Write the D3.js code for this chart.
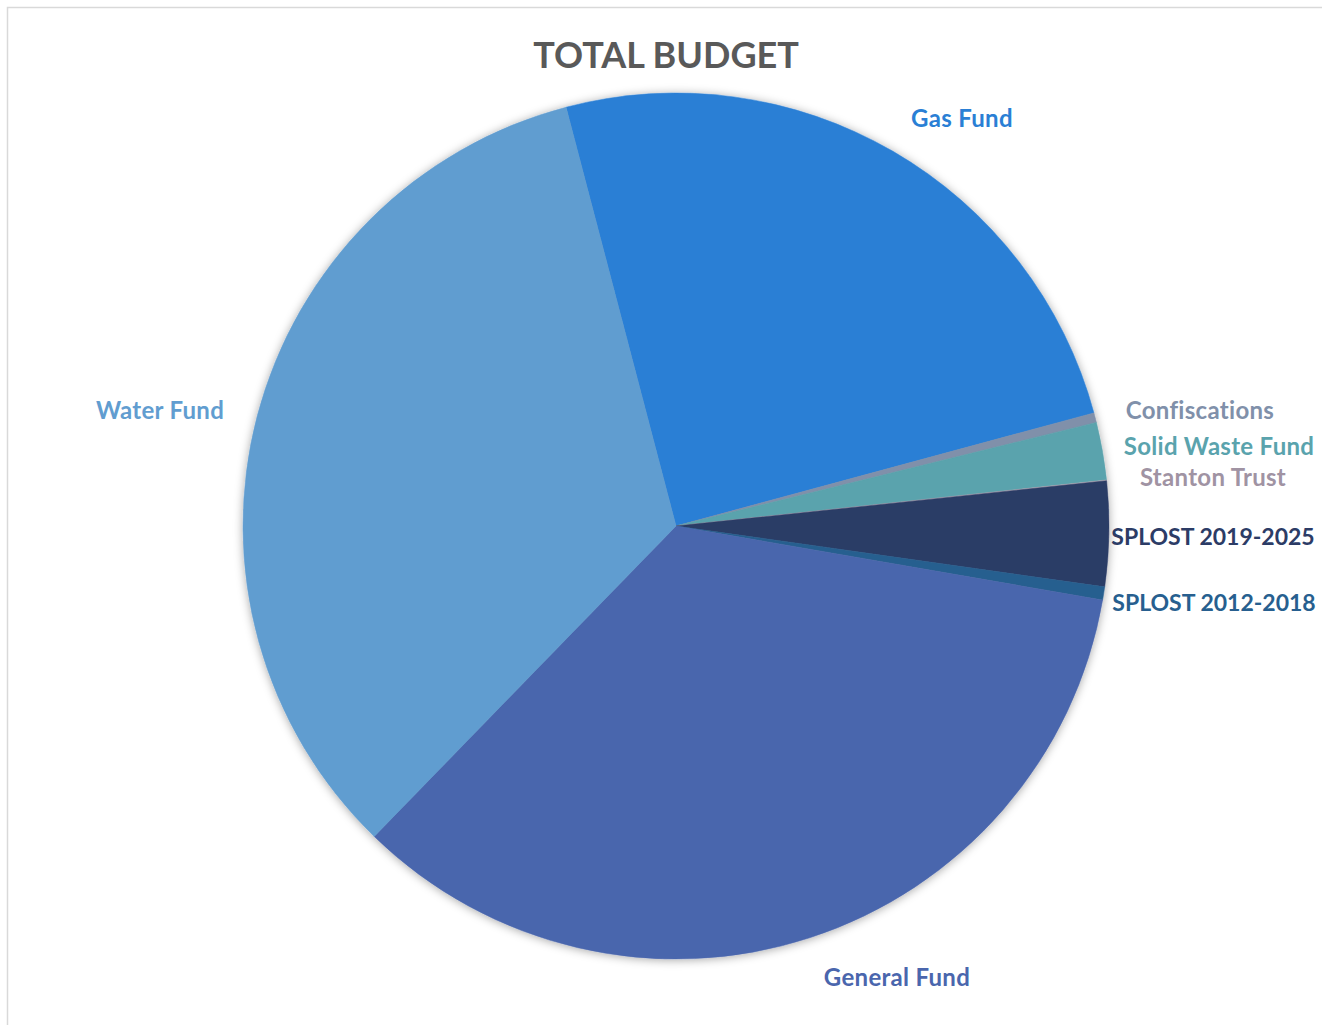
<!DOCTYPE html>
<html>
<head>
<meta charset="utf-8">
<script src="https://cdn.jsdelivr.net/npm/d3@7"></script>
<style>
  html, body { margin: 0; padding: 0; background: #fff; }
  svg { display: block; }
  text { font-family: Lato, "Open Sans", sans-serif; font-weight: bold; }
</style>
</head>
<body>
<svg id="chart" width="1322" height="1025"></svg>
<script>
// Share of the total budget by fund (percent)
const funds = ["Gas Fund", "Confiscations", "Solid Waste Fund", "Stanton Trust",
               "SPLOST 2019-2025", "SPLOST 2012-2018", "General Fund", "Water Fund"];
const shares = [24.88, 0.36, 2.15, 0.03, 3.91, 0.49, 34.54, 33.64];
const sliceColors = ["#2a7fd5", "#8090aa", "#5aa3ad", "#b3a8b5",
                     "#2c3c66", "#275f8f", "#4a66ad", "#619dd0"];
const labelColors = ["#2a7fd5", "#8090aa", "#5aa3ad", "#a093a3",
                     "#2c3c66", "#275f8f", "#4a66ad", "#619dd0"];
const title = "TOTAL BUDGET";

// Label placement (centre point of each label)
const labelPos = {
  "Gas Fund": [962, 117],
  "Confiscations": [1200, 409],
  "Solid Waste Fund": [1219, 445],
  "Stanton Trust": [1213, 476],
  "SPLOST 2019-2025": [1213, 536],
  "SPLOST 2012-2018": [1214, 602],
  "General Fund": [897, 976],
  "Water Fund": [160, 409]
};

const svg = d3.select("#chart");
const cx = 676, cy = 526, radius = 433;

// chart frame (only the top and left edges fall inside the view)
svg.append("path")
  .attr("d", "M7.5,1025 V7.5 H1322")
  .attr("fill", "none")
  .attr("stroke", "#d9d9d9")
  .attr("stroke-width", 1.5);

// soft shadow around the pie
const defs = svg.append("defs");
const f = defs.append("filter").attr("id", "pieShadow")
  .attr("x", "-10%").attr("y", "-10%").attr("width", "120%").attr("height", "120%");
f.append("feDropShadow").attr("dx", 0).attr("dy", 1).attr("stdDeviation", 5)
  .attr("flood-color", "#000").attr("flood-opacity", 0.35);

const data = funds.map((name, i) => ({ name, value: shares[i], color: sliceColors[i], label: labelColors[i] }));

const startDeg = -14.71;
const pie = d3.pie()
  .sort(null)
  .value(d => d.value)
  .startAngle(startDeg * Math.PI / 180)
  .endAngle((startDeg + 360) * Math.PI / 180);

const arc = d3.arc().innerRadius(0).outerRadius(radius);

const g = svg.append("g")
  .attr("transform", `translate(${cx},${cy})`)
  .attr("filter", "url(#pieShadow)");

g.selectAll("path.slice")
  .data(pie(data))
  .join("path")
  .attr("class", "slice")
  .attr("d", arc)
  .attr("fill", d => d.data.color)
  .attr("stroke", d => d.data.color)
  .attr("stroke-width", 0.5);

// slice labels (digit-heavy labels set a touch tighter)
const hasDigits = s => /\d/.test(s);
svg.append("g").selectAll("text")
  .data(data)
  .join("text")
  .attr("x", d => labelPos[d.name][0])
  .attr("y", d => labelPos[d.name][1])
  .attr("text-anchor", "middle")
  .attr("dominant-baseline", "central")
  .attr("font-size", d => hasDigits(d.name) ? 23 : 24)
  .attr("letter-spacing", d => hasDigits(d.name) ? 0 : 0.3)
  .attr("fill", d => d.label)
  .text(d => d.name);

// title
svg.append("text")
  .attr("x", 666)
  .attr("y", 54)
  .attr("text-anchor", "middle")
  .attr("dominant-baseline", "central")
  .attr("font-size", 36)
  .attr("fill", "#595959")
  .text(title);
</script>
</body>
</html>
